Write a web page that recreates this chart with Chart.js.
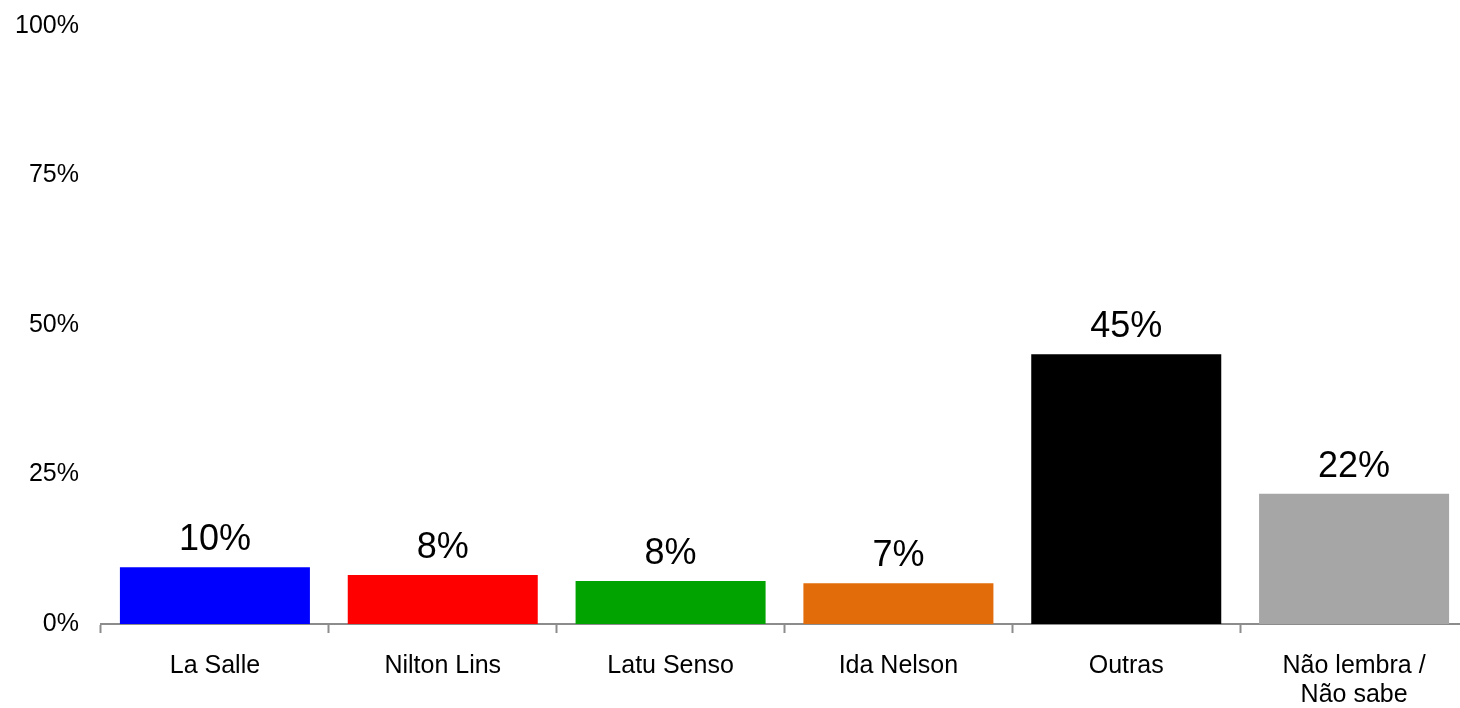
<!DOCTYPE html>
<html>
<head>
<meta charset="utf-8">
<script src="https://cdn.jsdelivr.net/npm/chart.js@4/dist/chart.umd.min.js"></script>
<style>
  html, body { margin: 0; padding: 0; background: #fff; overflow: hidden; }
  #caixa { width: 1468px; height: 708px; }
</style>
</head>
<body>
<div id="caixa"><canvas id="grafico" width="1468" height="708"></canvas></div>
<script>
// Dados
var categorias = ['La Salle', 'Nilton Lins', 'Latu Senso', 'Ida Nelson', 'Outras', ['Não lembra /', 'Não sabe']];
var valores = [9.5, 8.2, 7.2, 6.8, 45.1, 21.8];
var rotulos = ['10%', '8%', '8%', '7%', '45%', '22%'];
var cores = ['#0000FF', '#FF0000', '#00A300', '#E36C0A', '#000000', '#A6A6A6'];
var ticksY = [0, 25, 50, 75, 100];

// rótulos acima das barras
var rotulosPlugin = {
    id: 'rotulos',
    afterDatasetsDraw: function (chart) {
        var ctx = chart.ctx;
        var meta = chart.getDatasetMeta(0);
        ctx.save();
        ctx.fillStyle = '#000';
        ctx.font = '36px "Liberation Sans", Arial, sans-serif';
        ctx.textAlign = 'center';
        ctx.textBaseline = 'alphabetic';
        meta.data.forEach(function (bar, i) {
            ctx.fillText(rotulos[i], bar.x, bar.y - 17);
        });
        ctx.restore();
    }
};

var ctx = document.getElementById('grafico').getContext('2d');
var grafico = new Chart(ctx, {
    type: 'bar',
    data: {
        labels: categorias,
        datasets: [{
            data: valores,
            backgroundColor: cores,
            borderWidth: 0,
            categoryPercentage: 1,
            barPercentage: 0.834
        }]
    },
    options: {
        responsive: false,
        animation: false,
        layout: { padding: { top: 26, right: 0, left: 0, bottom: 0 } },
        plugins: { legend: { display: false }, tooltip: { enabled: false } },
        scales: {
            x: {
                grid: {
                    display: true,
                    drawOnChartArea: false,
                    drawTicks: true,
                    tickLength: 9,
                    tickWidth: 2,
                    color: '#8C8C8C'
                },
                border: { display: true, color: '#8C8C8C', width: 2 },
                ticks: {
                    color: '#000',
                    padding: 19,
                    maxRotation: 0,
                    autoSkip: false,
                    font: { family: '"Liberation Sans", Arial, sans-serif', size: 25, lineHeight: 1.15 }
                },
                afterFit: function (eixo) {
                    eixo.height = 84;
                    eixo.paddingLeft = 0;
                    eixo.paddingRight = 0;
                }
            },
            y: {
                min: 0,
                max: 100,
                afterBuildTicks: function (eixo) {
                    eixo.ticks = ticksY.map(function (v) { return { value: v }; });
                },
                grid: { display: false, drawTicks: false },
                border: { display: false },
                ticks: {
                    color: '#000',
                    padding: 22,
                    callback: function (v) { return v + '%'; },
                    font: { family: '"Liberation Sans", Arial, sans-serif', size: 25 }
                },
                afterFit: function (eixo) {
                    eixo.width = 101;
                    eixo.paddingTop = 0;
                    eixo.paddingBottom = 0;
                }
            }
        }
    },
    plugins: [rotulosPlugin]
});
</script>
</body>
</html>
